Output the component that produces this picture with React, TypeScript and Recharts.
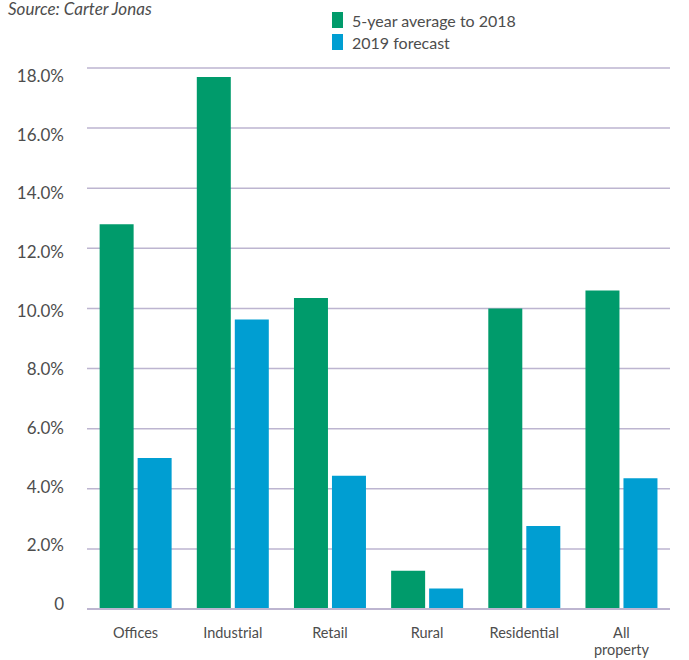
import React from 'react';
import { BarChart, Bar, XAxis, YAxis, CartesianGrid } from 'recharts';

const categories = ['Offices', 'Industrial', 'Retail', 'Rural', 'Residential', 'All property'];
const avgTo2018 = [12.8, 17.7, 10.35, 1.27, 10.0, 10.6];
const forecast2019 = [5.02, 9.63, 4.43, 0.68, 2.76, 4.35];
const yTicks = [0, 2, 4, 6, 8, 10, 12, 14, 16, 18];

const GREEN = '#009B6B';
const BLUE = '#009ED2';
const GRID = '#BDB5D0';
const TEXT = '#4D4D4D';
const FONT = 'Lato, "Open Sans", sans-serif';

const data = categories.map((name, i) => ({
  name,
  avg: avgTo2018[i],
  forecast: forecast2019[i],
}));

const seriesLabels = [
  { label: '5-year average to 2018', color: GREEN },
  { label: '2019 forecast', color: BLUE },
];

const YTick = (props: any) => {
  const { x, y, payload } = props;
  const v = payload.value as number;
  // labels sit a little off the grid lines in the original
  const dy = -5 + (v * 13) / 18;
  return (
    <text x={x} y={y + dy} dy="0.355em" textAnchor="end" fill={TEXT} fontSize={17} fontFamily={FONT}>
      {v === 0 ? '0' : `${v.toFixed(1)}%`}
    </text>
  );
};

const XTick = (props: any) => {
  const { x, y, payload } = props;
  const lines = String(payload.value).split(' ');
  return (
    <text x={x} y={y} textAnchor="middle" fill={TEXT} fontSize={14.5} fontFamily={FONT}>
      {lines.map((l, i) => (
        <tspan key={l} x={x} dy={i === 0 ? 21 : 17}>
          {l}
        </tspan>
      ))}
    </text>
  );
};

const App: React.FC = () => {
  return (
    <div style={{ position: 'absolute', left: 0, top: 0, width: 689, height: 660, background: '#fff' }}>
      <div
        style={{
          position: 'absolute',
          left: 8,
          top: 0,
          fontFamily: FONT,
          fontStyle: 'italic',
          fontSize: 17,
          lineHeight: '18px',
          color: TEXT,
          whiteSpace: 'nowrap',
        }}
      >
        Source: Carter Jonas
      </div>
      <div style={{ position: 'absolute', left: 332, top: 9, fontFamily: FONT, fontSize: 16, color: TEXT }}>
        {seriesLabels.map((s) => (
          <div key={s.label} style={{ display: 'flex', alignItems: 'center', height: 22 }}>
            <span style={{ display: 'inline-block', width: 11, height: 16, background: s.color, marginRight: 9 }} />
            <span>{s.label}</span>
          </div>
        ))}
      </div>
      <BarChart
        width={689}
        height={660}
        data={data}
        margin={{ top: 68, right: 19, bottom: 0, left: 0 }}
        barCategoryGap="13%"
        barGap={4}
      >
        <CartesianGrid vertical={false} stroke={GRID} strokeWidth={1.5} />
        <XAxis
          dataKey="name"
          height={51}
          axisLine={{ stroke: GRID, strokeWidth: 2 }}
          tickLine={false}
          tick={<XTick />}
          interval={0}
        />
        <YAxis
          width={87}
          domain={[0, 18]}
          ticks={yTicks}
          axisLine={false}
          tickLine={false}
          tickMargin={17}
          tick={<YTick />}
        />
        <Bar dataKey="avg" name="5-year average to 2018" fill={GREEN} isAnimationActive={false} />
        <Bar dataKey="forecast" name="2019 forecast" fill={BLUE} isAnimationActive={false} />
      </BarChart>
    </div>
  );
};

export default App;
